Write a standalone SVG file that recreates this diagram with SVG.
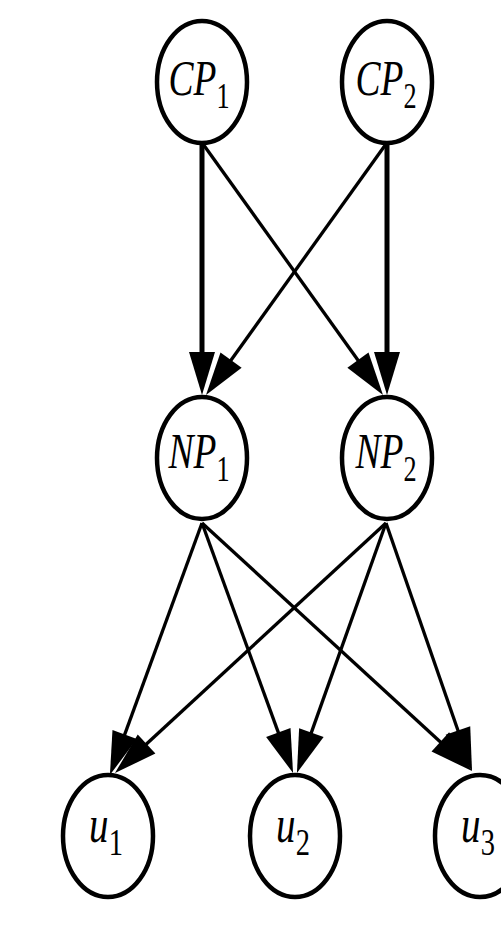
<svg xmlns="http://www.w3.org/2000/svg" width="501" height="934" viewBox="0 0 501 934">
  <style>
    .node ellipse { fill: #ffffff; stroke: #000000; stroke-width: 4.5; }
    .lbl { font-family: "Liberation Serif", "Times New Roman", serif; font-style: italic; font-size: 50px; fill: #000000; }
    .sub { font-style: normal; font-size: 35px; }
    .ulbl { font-size: 52px; }
    .usub { font-style: normal; font-size: 38px; }
    .edge { fill: none; stroke: #000000; stroke-linecap: butt; marker-end: url(#ah); }
    .thick { stroke-width: 5; }
    .thin { stroke-width: 3.3; }
  </style>
  <defs>
    <marker id="ah" markerUnits="userSpaceOnUse" markerWidth="46" markerHeight="28" refX="2" refY="13" orient="auto" overflow="visible">
      <path d="M0,0 L43,13 L0,26 z" fill="#000000"/>
    </marker>
  </defs>
  <rect width="501" height="934" fill="#ffffff"/>

  <!-- connectors -->
  <g id="edges">
    <path class="edge thick" d="M202,144 L202,354"/>
    <path class="edge thick" d="M387,144 L387,354"/>
    <path class="edge thin" d="M203,144 L359.1,361.7"/>
    <path class="edge thin" d="M386,144 L229.9,361.7"/>
    <path class="edge thin" d="M202,523 L124,736.4"/>
    <path class="edge thin" d="M202,523 L279,734.4"/>
    <path class="edge thin" d="M202,523 L441.8,743.3"/>
    <path class="edge thin" d="M386,523 L145.1,745.3"/>
    <path class="edge thin" d="M386,523 L310.7,734.4"/>
    <path class="edge thin" d="M386,523 L458.6,732.3"/>
  </g>

  <!-- top layer -->
  <g id="CP1" class="node">
    <ellipse cx="202" cy="82" rx="45" ry="61"/>
    <text class="lbl" text-anchor="middle" transform="translate(199,95) scale(0.75,1)">CP<tspan class="sub" dy="13">1</tspan></text>
  </g>
  <g id="CP2" class="node">
    <ellipse cx="387" cy="82" rx="45" ry="61"/>
    <text class="lbl" text-anchor="middle" transform="translate(386,95) scale(0.75,1)">CP<tspan class="sub" dy="13">2</tspan></text>
  </g>

  <!-- middle layer -->
  <g id="NP1" class="node">
    <ellipse cx="202" cy="458" rx="45" ry="61"/>
    <text class="lbl" text-anchor="middle" transform="translate(199,468) scale(0.75,1)">NP<tspan class="sub" dy="13">1</tspan></text>
  </g>
  <g id="NP2" class="node">
    <ellipse cx="387" cy="458" rx="45" ry="61"/>
    <text class="lbl" text-anchor="middle" transform="translate(386,468) scale(0.75,1)">NP<tspan class="sub" dy="13">2</tspan></text>
  </g>

  <!-- bottom layer -->
  <g id="u1" class="node">
    <ellipse cx="108" cy="836" rx="45" ry="61"/>
    <text class="lbl ulbl" text-anchor="middle" transform="translate(106,842) scale(0.75,1)">u<tspan class="usub" dy="13">1</tspan></text>
  </g>
  <g id="u2" class="node">
    <ellipse cx="295" cy="836" rx="45" ry="61"/>
    <text class="lbl ulbl" text-anchor="middle" transform="translate(293,842) scale(0.75,1)">u<tspan class="usub" dy="13">2</tspan></text>
  </g>
  <g id="u3" class="node">
    <ellipse cx="480" cy="836" rx="45" ry="61"/>
    <text class="lbl ulbl" text-anchor="middle" transform="translate(478,842) scale(0.75,1)">u<tspan class="usub" dy="13">3</tspan></text>
  </g>
</svg>
